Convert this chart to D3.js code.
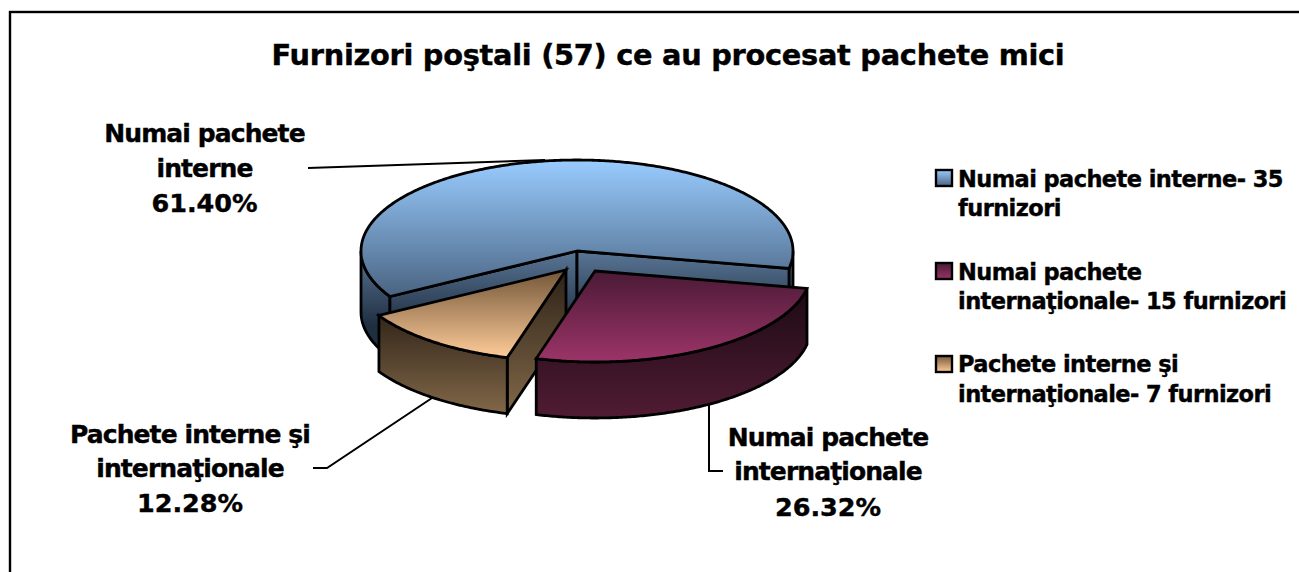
<!DOCTYPE html>
<html><head><meta charset="utf-8">
<script src="https://cdnjs.cloudflare.com/ajax/libs/d3/7.8.5/d3.min.js"></script>
<style>html,body{margin:0;padding:0;background:#fff;overflow:hidden}
text{font-family:"DejaVu Sans",sans-serif;font-weight:bold;fill:#000;stroke:#000;stroke-width:0.4px}</style>
</head><body><svg id="c" width="1299" height="572"></svg>
<script>
const categories=["Numai pachete interne","Numai pachete internaţionale","Pachete interne şi internaţionale"];
const suppliers=[35,15,7];
const percents=["61.40%","26.32%","12.28%"];
const titleText="Furnizori poştali (57) ce au procesat pachete mici";
const labelLines=[["Numai pachete","interne"],["Numai pachete","internaţionale"],["Pachete interne şi","internaţionale"]];
const legendLines=[["Numai pachete interne- 35","furnizori"],["Numai pachete","internaţionale- 15 furnizori"],["Pachete interne şi","internaţionale- 7 furnizori"]];

const W=1299,H=572;
const svg=d3.select("#c");
const defs=svg.append("defs");
function grad(id,y1,y2,c1,c2,units){
  const g=defs.append("linearGradient").attr("id",id).attr("x1",0).attr("x2",0);
  if(units){g.attr("y1",0).attr("y2",1);}else{g.attr("gradientUnits","userSpaceOnUse").attr("y1",y1).attr("y2",y2);}
  g.append("stop").attr("offset",0).attr("stop-color",c1);
  g.append("stop").attr("offset",1).attr("stop-color",c2);
}
grad("t0",160,296,"#99ccff","#4a6482");
grad("s0",250,326,"#5a7797","#1f2e40");
grad("t1",271,358,"#4a1a36","#993366");
grad("s1",288,415,"#1c0a14","#4f1b33");
grad("t2",272,358,"#76593b","#ffcc99");
grad("s2",272,414,"#2f2418","#826849");
grad("o2",316,414,"#33261a","#826849");
grad("l0",0,0,"#99ccff","#4a6482",true);
grad("l1",0,0,"#4a1a36","#993366",true);
grad("l2",0,0,"#76593b","#ffcc99",true);

// border
svg.append("rect").attr("x",10).attr("y",12).attr("width",W+20).attr("height",H+20)
  .attr("fill","#fff").attr("stroke","#000").attr("stroke-width",2.4);

// title
svg.append("text").attr("x",668).attr("y",65).attr("text-anchor","middle").attr("font-size",28.8).attr("letter-spacing",-0.27).text(titleText);

// pie geometry
const cx=577,cy=251,rx=216,ry=91,depthBlue=61,depth=56;
const offsets=[[0,0],[18,20],[-11,19]];
const pie=d3.pie().sort(null).startAngle(240*Math.PI/180).endAngle((240+360)*Math.PI/180);
const arcs=pie(suppliers);
const px=(a,ox)=>cx+ox+rx*Math.sin(a);
const py=(a,oy)=>cy+oy-ry*Math.cos(a);
const line=d3.line();

function rimPts(a0,a1,ox,oy,dz){
  const n=Math.max(2,Math.ceil(Math.abs(a1-a0)/0.01));
  return d3.range(n+1).map(i=>{const a=a0+(a1-a0)*i/n;return [px(a,ox),py(a,oy)+dz];});
}
function topPath(d,ox,oy){
  return line([[cx+ox,cy+oy],...rimPts(d.startAngle,d.endAngle,ox,oy,0)])+"Z";
}
function outerSides(d,ox,oy,dz){
  const res=[];const P=Math.PI;
  for(const k of [0,1,2]){
    const lo=P/2+2*P*k-2*P, hi=3*P/2+2*P*k-2*P;
    const a0=Math.max(d.startAngle,lo),a1=Math.min(d.endAngle,hi);
    if(a1>a0){
      const up=rimPts(a0,a1,ox,oy,0),dn=rimPts(a1,a0,ox,oy,dz);
      res.push(line([...up,...dn])+"Z");
    }
  }
  return res;
}
function facePath(a,ox,oy,dz){
  return line([[cx+ox,cy+oy],[px(a,ox),py(a,oy)],[px(a,ox),py(a,oy)+dz],[cx+ox,cy+oy+dz]])+"Z";
}

// leader lines (beneath the pie)
const leaders=[
  [[308,168],[545,160]],
  [[709,405],[709,471],[723,471]],
  [[313,468],[327,468],[432,398]]
];
svg.append("g").selectAll("path").data(leaders).join("path")
  .attr("d",d=>line(d)).attr("fill","none").attr("stroke","#000").attr("stroke-width",2);

const sty={stroke:"#000","stroke-width":2.8,"stroke-linejoin":"miter"};
function shape(g,d,fill){const p=g.append("path").attr("d",d).attr("fill",fill);for(const k in sty)p.attr(k,sty[k]);return p;}

const gPie=svg.append("g");
{
  const d=arcs[0],[ox,oy]=offsets[0],g=gPie.append("g");
  outerSides(d,ox,oy,depthBlue).forEach(s=>shape(g,s,"url(#s0)"));
  shape(g,facePath(d.startAngle,ox,oy,depthBlue),"url(#s0)");
  shape(g,facePath(d.endAngle,ox,oy,depthBlue),"url(#s0)");
  shape(g,topPath(d,ox,oy),"url(#t0)");
}
{
  const d=arcs[2],[ox,oy]=offsets[2],g=gPie.append("g");
  shape(g,facePath(d.startAngle,ox,oy,depth),"url(#s2)");
  outerSides(d,ox,oy,depth).forEach(s=>shape(g,s,"url(#o2)"));
  shape(g,topPath(d,ox,oy),"url(#t2)");
}
{
  const d=arcs[1],[ox,oy]=offsets[1],g=gPie.append("g");
  outerSides(d,ox,oy,depth).forEach(s=>shape(g,s,"url(#s1)"));
  shape(g,topPath(d,ox,oy),"url(#t1)");
}

// data labels
const labelPos=[[204.5,[142,177,212]],[828,[446,480,516]],[190,[443,477,512]]];
categories.forEach((c,i)=>{
  const lines=[...labelLines[i],percents[i]];
  svg.append("g").selectAll("text").data(lines).join("text")
    .attr("x",labelPos[i][0]).attr("y",(d,j)=>labelPos[i][1][j])
    .attr("text-anchor","middle").attr("font-size",(d,j)=>j===2?25.5:25)
    .attr("letter-spacing",(d,j)=>j===2?0:-0.9).text(d=>d);
});

// legend
const legendY=[[187,216],[280,309],[372,402]],swatchY=[170,263,356];
categories.forEach((c,i)=>{
  svg.append("rect").attr("x",936).attr("y",swatchY[i]).attr("width",16).attr("height",16)
    .attr("fill",`url(#l${i})`).attr("stroke","#000").attr("stroke-width",2.4);
  svg.append("g").selectAll("text").data(legendLines[i]).join("text")
    .attr("x",958).attr("y",(d,j)=>legendY[i][j]).attr("font-size",22.5).attr("letter-spacing",-0.58).text(d=>d);
});
</script></body></html>
